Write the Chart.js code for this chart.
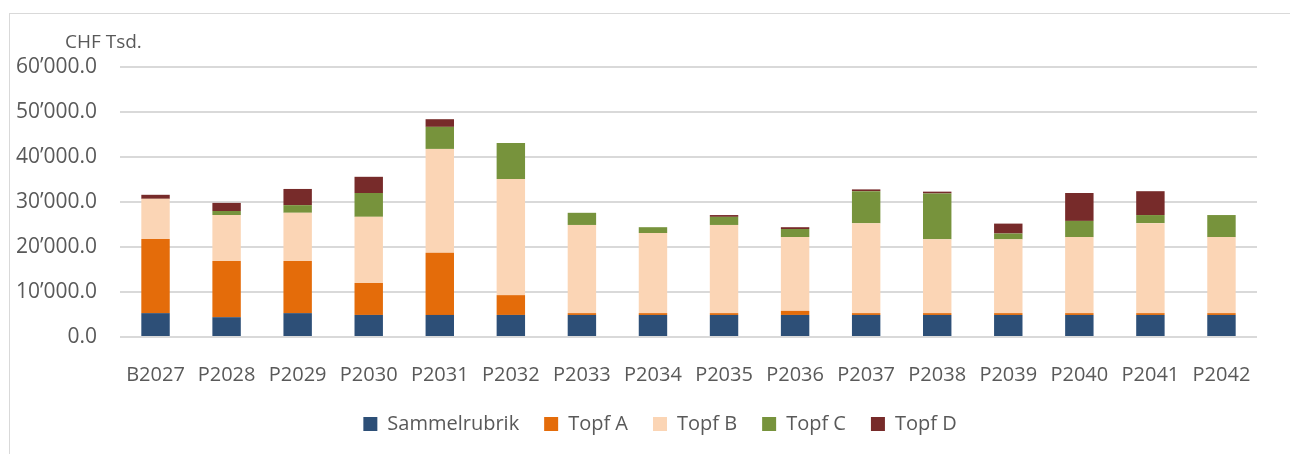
<!DOCTYPE html>
<html>
<head>
<meta charset="utf-8">
<script src="https://cdn.jsdelivr.net/npm/chart.js@4/dist/chart.umd.min.js"></script>
<style>
  html, body { margin: 0; padding: 0; background: #fff; overflow: hidden; }
  #box {
    position: absolute; left: 9px; top: 13px;
    border-left: 1px solid #d9d9d9; border-top: 1px solid #d9d9d9;
    width: 1300px; height: 440px;
  }
  canvas { display: block; }
</style>
</head>
<body>
<div id="box"><canvas id="chart-budget" width="1300" height="440"></canvas></div>
<script>
// categories and values (CHF Tsd.)
var categories = ['B2027', 'P2028', 'P2029', 'P2030', 'P2031', 'P2032', 'P2033', 'P2034',
                  'P2035', 'P2036', 'P2037', 'P2038', 'P2039', 'P2040', 'P2041', 'P2042'];
var sammelrubrik = [5300, 4400, 5300, 4900, 4900, 4900, 4900, 4900, 4900, 4900, 4900, 4900, 4900, 4900, 4900, 4900];
var topfA = [16500, 12500, 11600, 7100, 13800, 4400, 400, 400, 400, 900, 400, 400, 400, 400, 400, 400];
var topfB = [8900, 10200, 10700, 14700, 23100, 25800, 19600, 17800, 19600, 16400, 20000, 16400, 16400, 16900, 20000, 16900];
var topfC = [0, 900, 1700, 5300, 4900, 8000, 2700, 1300, 1800, 1800, 7100, 10200, 1300, 3600, 1800, 4900];
var topfD = [900, 1800, 3600, 3600, 1700, 0, 0, 0, 400, 400, 400, 400, 2200, 6200, 5300, 0];
var yTicks = [0, 10000, 20000, 30000, 40000, 50000, 60000];
var unitLabel = 'CHF Tsd.';

Chart.defaults.font.family = "'Open Sans', sans-serif";
Chart.defaults.font.size = 20;
Chart.defaults.color = '#595959';

// number like 10'000.0 with typographic apostrophe
function formatNumber(v) {
  var parts = v.toFixed(1).split('.');
  parts[0] = parts[0].replace(/\B(?=(\d{3})+(?!\d))/g, '\u2019');
  return parts.join('.');
}

// small text above the y axis, legend nudged to the middle of the whole frame
var unitPlugin = {
  id: 'unitText',
  afterLayout: function(chart) {
    if (chart.legend) chart.legend.left = 53;
  },
  afterDraw: function(chart) {
    var ctx = chart.ctx;
    ctx.save();
    ctx.font = "19px 'Open Sans', sans-serif";
    ctx.fillStyle = '#595959';
    ctx.textAlign = 'left';
    ctx.textBaseline = 'alphabetic';
    ctx.fillText(unitLabel, chart.chartArea.left - 55, chart.chartArea.top - 19);
    ctx.restore();
  }
};

function makeSet(label, data, color) {
  return { label: label, data: data, backgroundColor: color, borderWidth: 0,
           barPercentage: 0.4, categoryPercentage: 1 };
}

new Chart(document.getElementById('chart-budget'), {
  type: 'bar',
  data: {
    labels: categories,
    datasets: [
      makeSet('Sammelrubrik', sammelrubrik, '#2d4f77'),
      makeSet('Topf A', topfA, '#e46c0a'),
      makeSet('Topf B', topfB, '#fbd5b5'),
      makeSet('Topf C', topfC, '#77933c'),
      makeSet('Topf D', topfD, '#772b2a')
    ]
  },
  options: {
    responsive: false,
    animation: false,
    devicePixelRatio: 1,
    layout: { padding: { top: 53, right: 53, bottom: 10, left: 0 } },
    plugins: {
      tooltip: { enabled: false },
      legend: {
        position: 'bottom',
        labels: { boxWidth: 14, boxHeight: 14, padding: 25, color: '#595959' }
      }
    },
    scales: {
      x: {
        stacked: true,
        grid: { display: false },
        border: { display: false },
        ticks: { padding: 18, maxRotation: 0, autoSkip: false },
        afterFit: function(scale) { scale.height = 52; }
      },
      y: {
        stacked: true,
        min: 0,
        max: 60000,
        afterBuildTicks: function(scale) {
          scale.ticks = yTicks.map(function(v) { return { value: v }; });
        },
        grid: { color: '#d9d9d9', lineWidth: 2, drawTicks: false },
        border: { display: false },
        ticks: {
          padding: 23,
          font: { size: 21 },
          callback: function(value) { return formatNumber(value); }
        },
        afterFit: function(scale) { scale.width = 110; }
      }
    }
  },
  plugins: [unitPlugin]
});
</script>
</body>
</html>
